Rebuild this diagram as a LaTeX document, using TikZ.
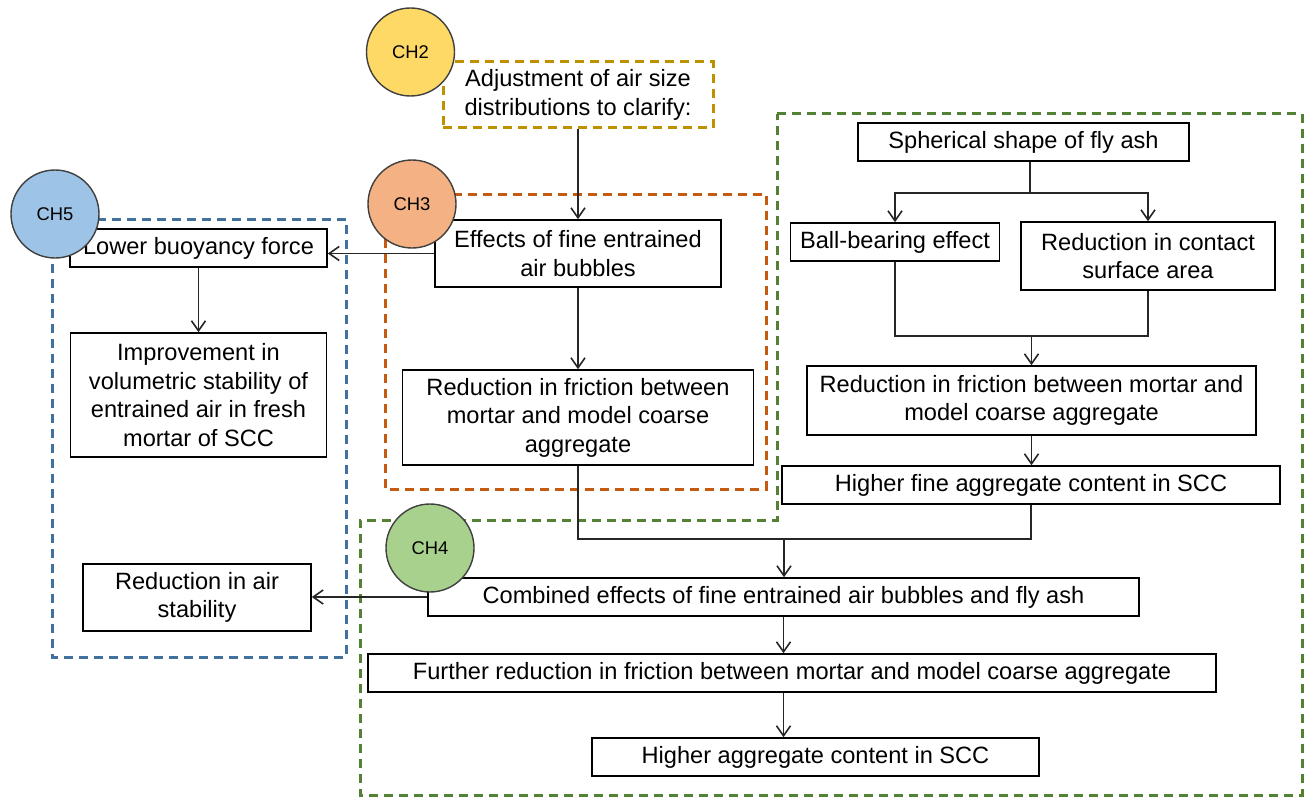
\documentclass[tikz,border=0pt]{standalone}
\usepackage{fontspec}
\setmainfont{Liberation Sans}
\usetikzlibrary{arrows.meta,positioning}

\definecolor{chgold}{HTML}{BF9000}
\definecolor{chorange}{HTML}{C55A11}
\definecolor{chblue}{HTML}{41719C}
\definecolor{chgreen}{HTML}{548235}
\definecolor{fillyel}{HTML}{FFD966}
\definecolor{fillora}{HTML}{F4B183}
\definecolor{fillblu}{HTML}{9DC3E6}
\definecolor{fillgrn}{HTML}{A9D18E}

\begin{document}
\begin{tikzpicture}[x=0.5pt,y=-0.5pt, >={Straight Barb[length=5pt,width=7pt]},
  blk/.style={draw,line width=0.8pt,align=center,inner sep=1pt,minimum height=19pt,font={\fontsize{11.8}{14.2}\selectfont}},
  chap/.style={circle,draw=black!75,line width=0.7pt,minimum size=44pt,inner sep=0pt,font={\fontsize{9.2}{11}\selectfont}},
  grp/.style={line width=1.5pt,dash pattern=on 4.5pt off 3pt},
  conn/.style={line width=0.8pt,black!85}]
\useasboundingbox (0,0) rectangle (1306,797);
% group frames
\draw[grp,chorange] (385,194) rectangle (766,489);
\draw[grp,chblue] (52,219) rectangle (346,657);
\draw[grp,chgreen] (777,114) -- (1302,114) -- (1302,795) -- (360,795) -- (360,520) -- (777,520) -- cycle;
% CH2/CH3 column
\node[blk,grp,draw=chgold,minimum width=135pt,minimum height=33pt] (adj) at (578,95) {Adjustment of air size\\distributions to clarify:};
\node[blk,minimum width=143pt,minimum height=33.5pt] (eff) at (578,253.5) {Effects of fine entrained\\air bubbles};
\node[blk,minimum width=175.5pt,minimum height=47.5pt] (fric3) at (578,417.5) {Reduction in friction between\\mortar and model coarse\\aggregate};
% CH5 column
\node[blk,minimum width=128.5pt] (buoy) at (198.5,248) {Lower buoyancy force};
\node[blk,minimum width=128pt,minimum height=62pt] (impr) at (198.5,395) {Improvement in\\volumetric stability of\\entrained air in fresh\\mortar of SCC};
\node[blk,minimum width=114pt,minimum height=33.5pt] (airstab) at (197,597.5) {Reduction in air\\stability};
% fly ash column
\node[blk,minimum width=165.5pt] (sph) at (1023.5,142) {Spherical shape of fly ash};
\node[blk,minimum width=104.5pt] (ball) at (895,242) {Ball-bearing effect};
\node[blk,minimum width=127pt,minimum height=34pt] (cont) at (1148,256) {Reduction in contact\\surface area};
\node[blk,minimum width=224.5pt,minimum height=34.5pt] (fric4) at (1031.5,400.5) {Reduction in friction between mortar and\\model coarse aggregate};
\node[blk,minimum width=249pt] (hfine) at (1031,485) {Higher fine aggregate content in SCC};
% CH4 column
\node[blk,minimum width=355.5pt] (comb) at (783.5,597) {Combined effects of fine entrained air bubbles and fly ash};
\node[blk,minimum width=424pt] (furth) at (792,673) {Further reduction in friction between mortar and model coarse aggregate};
\node[blk,minimum width=223.5pt] (hagg) at (815.5,757) {Higher aggregate content in SCC};
% connectors
\coordinate (j1) at (1030,193);
\coordinate (j2) at (1031.5,336);
\coordinate (j3) at (784,539);
\draw[conn,->] (adj.south) -- (adj.south |- eff.north);
\draw[conn,->] (eff.west) -- (eff.west -| buoy.east);
\draw[conn,->] (buoy.south) -- (buoy.south |- impr.north);
\draw[conn,->] (eff.south) -- (eff.south |- fric3.north);
\draw[conn] (j1 |- sph.south) -- (j1);
\draw[conn,->] (j1) -| (ball.north);
\draw[conn,->] (j1) -| (cont.north);
\draw[conn] (ball.south) |- (cont.south |- j2) -- (cont.south);
\draw[conn,->] (j2) -- (j2 |- fric4.north);
\draw[conn,->] (fric4.south) -- (fric4.south |- hfine.north);
\draw[conn] (fric3.south) |- (hfine.south |- j3) -- (hfine.south);
\draw[conn,->] (j3) -- (j3 |- comb.north);
\draw[conn,->] (comb.west) -- (comb.west -| airstab.east);
\draw[conn,->] (comb.south) -- (comb.south |- furth.north);
\draw[conn,->] (comb.south |- furth.south) -- (comb.south |- hagg.north);
% chapter markers
\node[chap,fill=fillyel] (ch2) at (410.5,52) {CH2};
\node[chap,fill=fillora] (ch3) at (412,204) {CH3};
\node[chap,fill=fillblu] (ch5) at (55,214) {CH5};
\node[chap,fill=fillgrn] (ch4) at (430,548) {CH4};
\end{tikzpicture}
\end{document}
